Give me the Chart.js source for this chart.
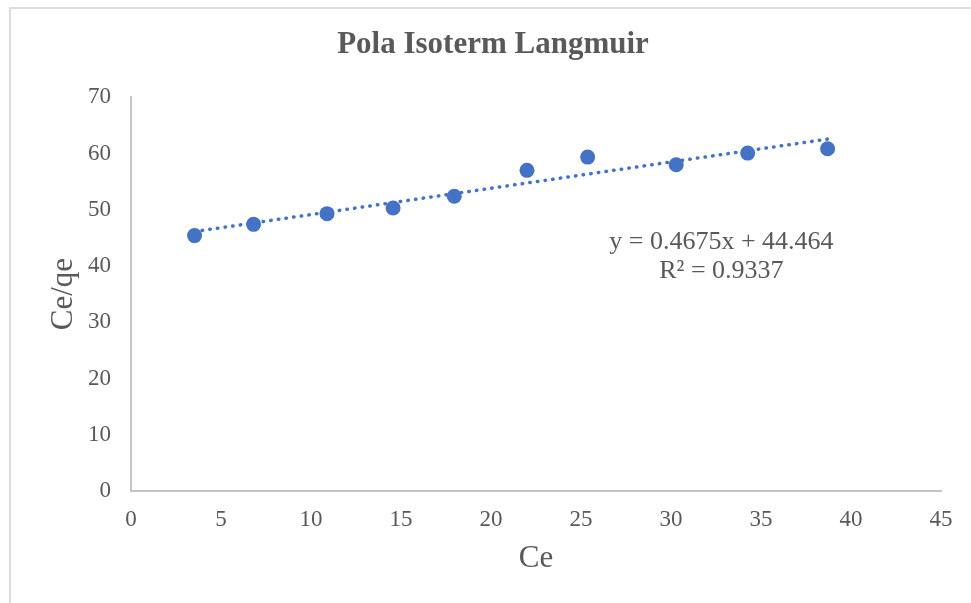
<!DOCTYPE html>
<html>
<head>
<meta charset="utf-8">
<title>Pola Isoterm Langmuir</title>
<script src="https://cdn.jsdelivr.net/npm/chart.js@4"></script>
<style>
    html, body {
        margin: 0;
        padding: 0;
        background: #ffffff;
        overflow: hidden;
    }
    #frame {
        position: absolute;
        left: 9px;
        top: 7px;
        width: 990px;
        height: 620px;
        border: 2px solid #dcdcdc;
    }
    #chartBox {
        position: absolute;
        left: 0;
        top: 0;
        width: 971px;
        height: 603px;
    }
</style>
</head>
<body>
<div id="frame"></div>
<div id="chartBox"><canvas id="langmuirChart"></canvas></div>
<script>
// measured Ce and Ce/qe values
const ceValues = [3.53, 6.81, 10.89, 14.56, 17.96, 22.0, 25.37, 30.29, 34.26, 38.7];
const ceQeValues = [45.4, 47.4, 49.3, 50.3, 52.4, 57.0, 59.35, 58.0, 60.06, 60.83];

// linear trendline as reported on the chart
const trendSlope = 0.4675;
const trendIntercept = 44.464;
const trendR2 = 0.9337;

const xTicks = [0, 5, 10, 15, 20, 25, 30, 35, 40, 45];
const yTicks = [0, 10, 20, 30, 40, 50, 60, 70];

const textColor = "#595959";
const markColor = "#4472C4";
const serif = "'Liberation Serif', 'Times New Roman', serif";

const points = ceValues.map((x, i) => ({ x: x, y: ceQeValues[i] }));

const xMin = Math.min(...ceValues);
const xMax = Math.max(...ceValues);
const trendPoints = [
    { x: xMin, y: trendSlope * xMin + trendIntercept },
    { x: xMax, y: trendSlope * xMax + trendIntercept }
];

// writes the regression equation and R² next to the trendline
const equationLabel = {
    id: "equationLabel",
    afterDatasetsDraw(chart) {
        const ctx = chart.ctx;
        const xs = chart.scales.x;
        const ys = chart.scales.y;
        const cx = xs.getPixelForValue(32.8);
        const baseY = ys.getPixelForValue(43.1);
        ctx.save();
        ctx.fillStyle = textColor;
        ctx.font = "26px " + serif;
        ctx.textAlign = "center";
        ctx.textBaseline = "alphabetic";
        ctx.fillText(`y = ${trendSlope}x + ${trendIntercept}`, cx, baseY);
        ctx.fillText(`R² = ${trendR2}`, cx, baseY + 29);
        ctx.restore();
    }
};

const ctx = document.getElementById("langmuirChart").getContext("2d");

new Chart(ctx, {
    type: "scatter",
    data: {
        datasets: [
            {
                label: "Ce/qe",
                data: points,
                backgroundColor: markColor,
                borderColor: markColor,
                borderWidth: 0,
                pointRadius: 7.5,
                pointHoverRadius: 7.5,
                order: 1
            },
            {
                type: "line",
                label: "Linear trend",
                data: trendPoints,
                borderColor: markColor,
                borderWidth: 3.5,
                borderDash: [0.5, 7.2],
                borderCapStyle: "round",
                pointRadius: 0,
                fill: false,
                order: 2
            }
        ]
    },
    options: {
        responsive: true,
        maintainAspectRatio: false,
        animation: false,
        layout: {
            padding: { left: 45, right: 30, top: 0, bottom: 0 }
        },
        plugins: {
            legend: { display: false },
            tooltip: { enabled: false },
            title: {
                display: true,
                text: "Pola Isoterm Langmuir",
                color: textColor,
                font: { family: serif, size: 31, weight: "bold", lineHeight: 1.2 },
                padding: { top: 26, bottom: 34 }
            }
        },
        scales: {
            x: {
                type: "linear",
                min: 0,
                max: 45,
                afterBuildTicks: (scale) => {
                    scale.ticks = xTicks.map((v) => ({ value: v }));
                },
                afterFit: (scale) => {
                    scale.height = 112;
                },
                grid: { display: false, drawTicks: false },
                border: { display: true, color: "#c4c4c4", width: 2 },
                ticks: {
                    color: textColor,
                    font: { family: serif, size: 23 },
                    padding: 15,
                    maxRotation: 0
                },
                title: {
                    display: true,
                    text: "Ce",
                    color: textColor,
                    font: { family: serif, size: 31, lineHeight: 1.2 },
                    padding: { top: 0, bottom: 26 }
                }
            },
            y: {
                type: "linear",
                min: 0,
                max: 70,
                afterBuildTicks: (scale) => {
                    scale.ticks = yTicks.map((v) => ({ value: v }));
                },
                afterFit: (scale) => {
                    scale.width = 86;
                },
                grid: { display: false, drawTicks: false },
                border: { display: true, color: "#c4c4c4", width: 2 },
                ticks: {
                    color: textColor,
                    font: { family: serif, size: 23 },
                    padding: 20
                },
                title: {
                    display: true,
                    text: "Ce/qe",
                    color: textColor,
                    font: { family: serif, size: 31, lineHeight: 1.2 },
                    padding: { top: 0, bottom: 0 }
                }
            }
        }
    },
    plugins: [equationLabel]
});
</script>
</body>
</html>
